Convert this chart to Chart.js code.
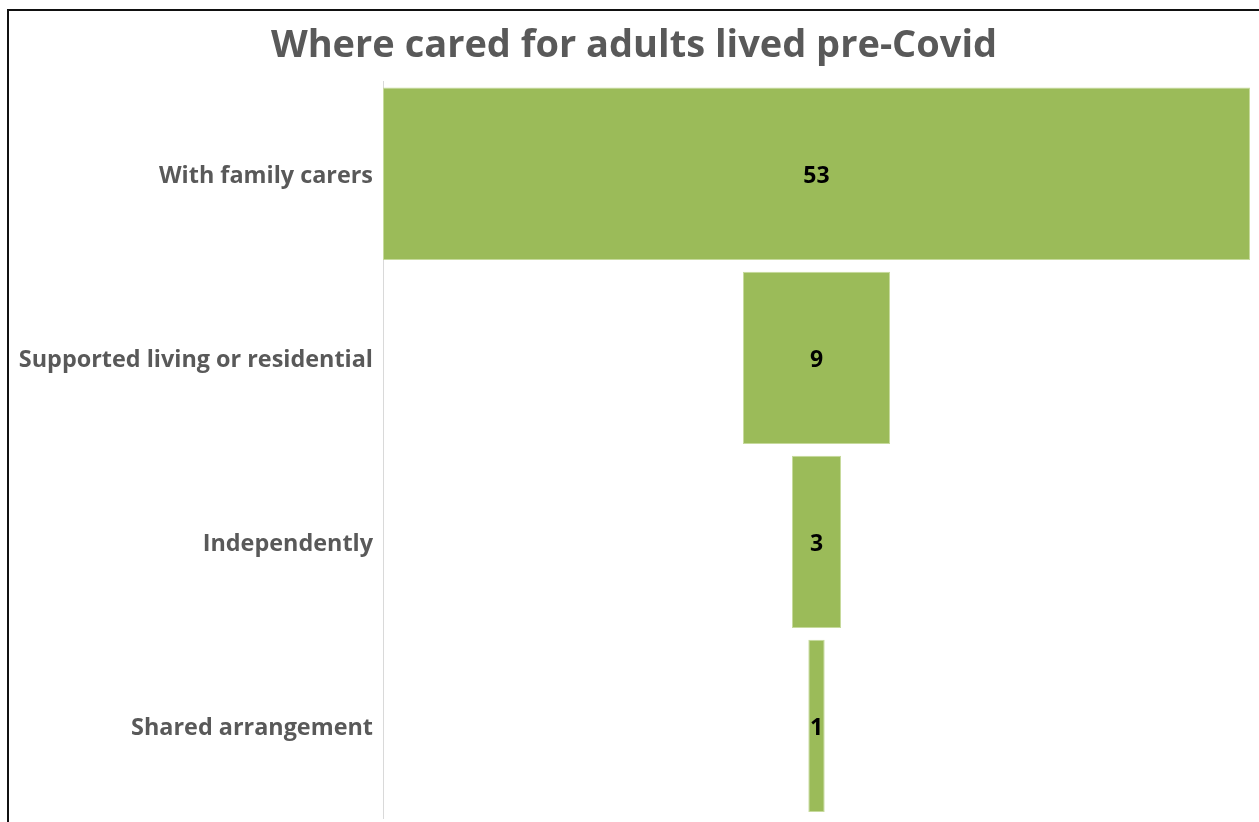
<!DOCTYPE html>
<html>
<head>
<meta charset="utf-8">
<title>Where cared for adults lived pre-Covid</title>
<script src="https://cdn.jsdelivr.net/npm/chart.js@4/dist/chart.umd.min.js"></script>
<style>
  html, body { margin: 0; padding: 0; background: #ffffff; overflow: hidden; }
  body { width: 1259px; height: 822px; position: relative; }
  #frame {
    position: absolute; left: 7px; top: 9px;
    width: 1300px; height: 900px;
    border: 2px solid #111111; box-sizing: border-box;
    pointer-events: none;
  }
  #wrap { position: absolute; left: 9px; top: 0; width: 1250px; height: 822px; }
  canvas { display: block; }
</style>
</head>
<body>
<div id="wrap"><canvas id="funnel" width="1250" height="822"></canvas></div>
<div id="frame"></div>
<script>
// Living arrangements before Covid, counts per group
const categories = ['With family carers', 'Supported living or residential', 'Independently', 'Shared arrangement'];
const counts = [53, 9, 3, 1];
const chartTitle = 'Where cared for adults lived pre-Covid';

// Funnel: each bar is centred on zero, spanning -v/2 .. v/2
const spans = counts.map(v => [-v / 2, v / 2]);
const maxCount = Math.max(...counts);

const FONT = '"Open Sans", "DejaVu Sans", sans-serif';
const GREY = '#595959';

// Writes each count in the middle of its bar
const barValueLabels = {
  id: 'barValueLabels',
  afterDatasetsDraw(chart) {
    const ctx = chart.ctx;
    const meta = chart.getDatasetMeta(0);
    ctx.save();
    ctx.font = 'bold 23px ' + FONT;
    ctx.fillStyle = '#000000';
    ctx.textAlign = 'center';
    ctx.textBaseline = 'middle';
    meta.data.forEach((bar, i) => {
      const c = bar.getCenterPoint();
      ctx.fillText(String(counts[i]), c.x, c.y + 2.5);
    });
    ctx.restore();
  }
};

new Chart(document.getElementById('funnel'), {
  type: 'bar',
  data: {
    labels: categories,
    datasets: [{
      data: spans,
      backgroundColor: '#9bbb59',
      borderColor: '#c6da9c',
      borderWidth: 1,
      borderSkipped: false,
      categoryPercentage: 1,
      barPercentage: 0.936
    }]
  },
  options: {
    indexAxis: 'y',
    responsive: false,
    animation: false,
    layout: { padding: { left: 9, right: 9, top: 0, bottom: 4 } },
    scales: {
      x: {
        display: false,
        min: -maxCount / 2,
        max: maxCount / 2
      },
      y: {
        grid: { display: false, drawTicks: false, tickLength: 0 },
        border: { display: true, color: '#d9d9d9', width: 1 },
        ticks: {
          color: GREY,
          padding: 10,
          labelOffset: 2.5,
          font: { family: FONT, size: 23.4, weight: 'bold' }
        },
        afterFit(scale) {
          scale.width = 365;
          scale.paddingTop = 0;
          scale.paddingBottom = 0;
        }
      }
    },
    plugins: {
      legend: { display: false },
      tooltip: { enabled: false },
      title: {
        display: true,
        text: chartTitle,
        color: GREY,
        font: { family: FONT, size: 38, weight: 'bold', lineHeight: 1.2 },
        padding: { top: 23.5, bottom: 12.6 }
      }
    }
  },
  plugins: [barValueLabels]
});
</script>
</body>
</html>
